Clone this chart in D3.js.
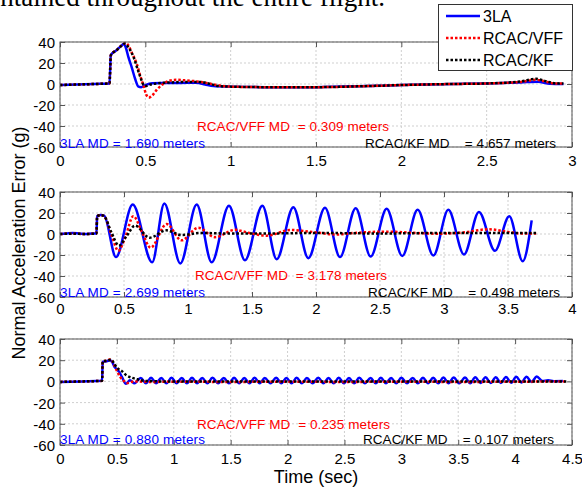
<!DOCTYPE html>
<html><head><meta charset="utf-8">
<script src="https://cdn.jsdelivr.net/npm/d3@7"></script>
<style>
body{margin:0;background:#fff}
svg{display:block}
text{font-family:"Liberation Sans",Arial,Helvetica,sans-serif}
</style>
</head><body>
<svg id="chart" width="582" height="491"></svg>
<script>
// ---------- DATA ----------
const seriesNames = ["3LA", "RCAC/VFF", "RCAC/KF"];
const seriesColors = ["#0000ff", "#ff0000", "#000000"];
const yTicks = [40, 20, 0, -20, -40, -60];
const xTicks1 = [0, 0.5, 1, 1.5, 2, 2.5, 3];
const xTicks2 = [0, 0.5, 1, 1.5, 2, 2.5, 3, 3.5, 4];
const xTicks3 = [0, 0.5, 1, 1.5, 2, 2.5, 3, 3.5, 4, 4.5];

// Panel 1
const p1_blue_t = [0,0.1,0.2,0.29,0.298,0.33,0.36,0.372,0.385,0.4,0.42,0.44,0.46,0.475,0.5,0.54,0.6,0.7,0.8,0.85,0.9,1.0,1.2,1.5,1.8,2.0,2.3,2.5,2.7,2.8,2.87,2.95];
const p1_blue_v = [-1,-0.5,0,0.5,27.5,32,36.5,38,35,26,16,5,-2.5,-3,-1,0.8,1,1,1.2,-0.5,-2,-2.5,-3,-3,-2,-1,0,0.5,1.5,2.2,0.3,0];
const p1_red_t = [0,0.1,0.2,0.29,0.298,0.33,0.36,0.385,0.4,0.42,0.45,0.47,0.49,0.505,0.52,0.54,0.57,0.6,0.64,0.68,0.73,0.8,0.86,0.92,1.0,1.2,1.5,1.8,2.0,2.3,2.5,2.7,2.79,2.84,2.9,2.95];
const p1_red_v = [-1,-0.5,0,0.5,27.5,32,36.5,39,37,30,19,8,-2,-10,-13,-11,-5,-0.5,3,4,3.5,2.5,1,-1,-2.5,-3,-3,-2,-1,0,0.5,2,4,2.5,0.5,0.5];
const p1_black_t = [0,0.1,0.2,0.29,0.298,0.33,0.36,0.38,0.4,0.43,0.455,0.47,0.49,0.5,0.53,0.57,0.65,0.75,0.82,0.87,0.93,1.0,1.2,1.5,1.8,2.0,2.3,2.5,2.7,2.79,2.84,2.9,2.95];
const p1_black_v = [-1,-0.5,0,0.5,27.5,32,36.5,38.5,35,26,14,7,-1,-2,-0.5,0.6,1.5,2,2,0.5,-2,-2.5,-3,-3,-2,-1,0,0.5,2.5,5,3,0.8,0.5];

// Panel 2
const p2_blue_t = [0,0.05,0.1,0.15,0.2,0.25,0.285,0.29,0.32,0.345,0.4375,0.568,0.72,0.815,0.94,1.068,1.185,1.32,1.445,1.581,1.693,1.823,1.94,2.07,2.1875,2.31,2.427,2.552,2.674,2.794,2.917,3.034,3.156,3.273,3.398,3.51,3.615,3.685];
const p2_blue_v = [0,0.5,1,0.5,0,0.5,0.5,17,18,17.5,-22,28,-27,29,-28,28,-27,27,-25,27,-24,25.5,-23,25,-22,24.5,-21.5,24,-21,23,-20.5,23,-19.5,21,-16,17,-26,13];
const p2_red_t = [0,0.1,0.2,0.285,0.29,0.32,0.345,0.4,0.456,0.51,0.573,0.64,0.708,0.833,0.95,1.08,1.21,1.37,1.41,1.615,1.8,2.0,2.16,2.3,2.55,2.95,3.15,3.35,3.5,3.6,3.72];
const p2_red_v = [0,0.3,0,0.5,17,18,17,0,-16,-3,17,2,-13,9.5,-6,6,-3,4,3,-1.6,3.8,1.5,-0.5,1,2.2,0.3,1.5,4.5,2,0.5,0.5];
const p2_black_t = [0,0.1,0.2,0.285,0.29,0.32,0.345,0.4,0.46,0.52,0.586,0.7,0.83,0.95,1.1,1.3,1.6,2.0,2.5,3.0,3.5,3.72];
const p2_black_v = [0,0.3,0,0.5,17,18,17,2,-11,-2,8,-3.5,3.5,-1,1,0.5,0.5,1,0.5,1,1,1];

// Panel 3
const p3_blue_t = [0,0.2,0.37,0.375,0.41,0.44,0.46,0.48,0.5,0.52,0.545,0.58,0.615,0.655,
  0.71,0.755,0.80,0.845,0.89,0.935,0.98,1.025,1.07,1.115,1.16,1.205,1.25,1.295,1.34,1.39,1.44,1.485,1.53,1.575,
  1.62,1.665,1.71,1.755,1.80,1.85,1.90,1.945,1.99,2.035,2.08,2.125,2.17,2.22,2.27,2.315,2.36,2.405,2.45,2.495,
  2.54,2.585,2.63,2.68,2.73,2.775,2.82,2.865,2.91,2.955,3.00,3.05,3.10,3.145,3.19,3.235,3.28,3.325,3.37,3.415,
  3.46,3.51,3.56,3.605,3.65,3.695,3.74,3.785,3.83,3.875,3.92,3.965,4.01,4.055,4.10,4.145,4.19,4.24,4.29,4.34,4.42];
const p3_blue_v = [-0.5,0,0.5,18.5,19,20,18,13.5,11.5,9,4,-2.3,1,-1.8,
  3.3,-1.8,3.4,-1.7,3.3,-1.8,3.4,-1.7,3.3,-1.8,3.4,-1.7,3.3,-1.8,3.4,-1.7,3.3,-1.8,3.4,-1.7,
  3.3,-1.8,3.4,-1.7,3.3,-1.8,3.4,-1.7,3.3,-1.8,3.4,-1.7,3.3,-1.8,3.4,-1.7,3.3,-1.8,3.4,-1.7,
  3.3,-1.8,3.4,-1.7,3.3,-1.8,3.4,-1.7,3.3,-1.8,3.4,-1.7,3.3,-1.8,3.5,-1.7,3.5,-1.8,3.6,-1.7,
  3.6,-1.8,3.7,-1.7,3.8,-1.6,3.9,-1.5,4.0,-1.4,4.1,-1.3,4.3,-1.0,4.5,-0.6,4.6,0.3,1.0,0.2,0.3];
const p3_red_t = [0,0.2,0.37,0.375,0.41,0.445,0.47,0.5,0.53,0.56,0.59,0.65,0.8,1.0,1.5,2.0,2.5,3.0,3.5,4.0,4.45];
const p3_red_v = [-0.5,0,0.5,19,19.5,21,17,10,4,0.5,-1.5,0,-0.5,-0.3,-0.5,-0.3,-0.5,-0.3,-0.5,-0.3,0];
const p3_black_t = [0,0.2,0.37,0.375,0.41,0.45,0.48,0.51,0.54,0.58,0.63,0.68,0.75,0.9,1.5,2.0,2.5,3.0,3.5,4.0,4.45];
const p3_black_v = [-0.5,0,0.5,19,19.5,20.5,16,12,10,6,3.5,2,0.5,0,0,0,0,0,0,0,0];

const annot1 = ["3LA MD = 1.690 meters", "RCAC/VFF MD  = 0.309 meters", "RCAC/KF MD    = 4.657 meters"];
const annot2 = ["3LA MD = 2.699 meters", "RCAC/VFF MD  = 3.178 meters", "RCAC/KF MD    = 0.498 meters"];
const annot3 = ["3LA MD = 0.880 meters", "RCAC/VFF MD  = 0.235 meters", "RCAC/KF MD    = 0.107 meters"];

// ---------- BUILD ----------
const zip = (t, v) => t.map((d, i) => ({t: d, v: v[i]}));
const panels = [
  {top: 42, bottom: 147, xmax: 3, xticks: xTicks1, annot: annot1,
   series: [zip(p1_blue_t, p1_blue_v), zip(p1_red_t, p1_red_v), zip(p1_black_t, p1_black_v)],
   apos: [[60,147.5,145],[197,131,192],[365,148,191]], labY: 165.5},
  {top: 192, bottom: 297, xmax: 4, xticks: xTicks2, annot: annot2,
   series: [zip(p2_blue_t, p2_blue_v), zip(p2_red_t, p2_red_v), zip(p2_black_t, p2_black_v)],
   apos: [[60,296.5,145],[195,280,192],[368,296.5,192]], labY: 314},
  {top: 339, bottom: 445, xmax: 4.5, xticks: xTicks3, annot: annot3,
   series: [zip(p3_blue_t, p3_blue_v), zip(p3_red_t, p3_red_v), zip(p3_black_t, p3_black_v)],
   apos: [[60,444,145],[197,428.5,193],[363,444,191]], labY: 463.5}
];

const L = 60, R = 572;
const svg = d3.select("#chart");
const axisColor = "#555";
const dashes = [null, "2.5,2", "2.5,2"];

// header text from the source document, cropped at the top edge as in the original
svg.append("text").attr("x", 385).attr("y", 6).attr("text-anchor", "end")
  .style("font-family", "'Liberation Serif','Times New Roman',serif").style("font-size", "27px")
  .attr("fill", "#000").text("maintained throughout the entire flight.");

panels.forEach((p, pi) => {
  const x = d3.scaleLinear().domain([0, p.xmax]).range([L, R]);
  const y = d3.scaleLinear().domain([-60, 40]).range([p.bottom, p.top]);
  const g = svg.append("g");
  g.append("rect").attr("x", L).attr("y", p.top).attr("width", R - L).attr("height", p.bottom - p.top).attr("fill", "#fff");
  // grid
  g.selectAll(".gx").data(p.xticks).join("line")
    .attr("x1", d => x(d)).attr("x2", d => x(d)).attr("y1", p.top).attr("y2", p.bottom)
    .attr("stroke", "#cfcfcf").attr("stroke-dasharray", "2,2").attr("stroke-width", 1);
  g.selectAll(".gy").data(yTicks).join("line")
    .attr("x1", L).attr("x2", R).attr("y1", d => y(d)).attr("y2", d => y(d))
    .attr("stroke", "#cfcfcf").attr("stroke-dasharray", "2,2").attr("stroke-width", 1);
  // axes
  const fmt = d => String(d);
  const ax = g.append("g").attr("transform", `translate(0,${p.bottom})`)
    .call(d3.axisBottom(x).tickValues(p.xticks).tickFormat(fmt).tickSizeInner(-5).tickSizeOuter(0).tickPadding(7));
  ax.selectAll("text").attr("y", null).attr("dy", null).attr("y", p.labY - p.bottom);
  const ay = g.append("g").attr("transform", `translate(${L},0)`)
    .call(d3.axisLeft(y).tickValues(yTicks).tickFormat(fmt).tickSizeInner(-5).tickSizeOuter(0).tickPadding(5));
  ay.selectAll("text").attr("dy", "0.36em");
  g.append("g").attr("transform", `translate(0,${p.top})`)
    .call(d3.axisTop(x).tickValues(p.xticks).tickFormat("").tickSizeInner(-5).tickSizeOuter(0));
  g.append("g").attr("transform", `translate(${R},0)`)
    .call(d3.axisRight(y).tickValues(yTicks).tickFormat("").tickSizeInner(-5).tickSizeOuter(0));
  g.selectAll(".domain").remove();
  g.selectAll(".tick line").attr("stroke", axisColor);
  g.selectAll(".tick text").attr("fill", "#000").style("font-size", "15px")
    .style("font-family", "'Liberation Sans',Arial,sans-serif");
  // lines
  const line = d3.line().x(d => x(d.t)).y(d => y(d.v)).curve(d3.curveMonotoneX);
  p.series.forEach((s, si) => {
    g.append("path").datum(s).attr("d", line).attr("fill", "none")
      .attr("stroke", seriesColors[si]).attr("stroke-width", 2.5)
      .attr("stroke-dasharray", dashes[si]);
  });
  // box
  g.append("rect").attr("x", L).attr("y", p.top).attr("width", R - L).attr("height", p.bottom - p.top)
    .attr("fill", "none").attr("stroke", axisColor).attr("stroke-width", 1);
  // annotations
  p.annot.forEach((a, ai) => {
    const [ax0, ay0, w] = p.apos[ai];
    g.append("text").attr("x", ax0).attr("y", ay0).attr("fill", seriesColors[ai])
      .style("font-size", "13.5px").style("white-space", "pre").attr("xml:space", "preserve")
      .attr("textLength", w).attr("lengthAdjust", "spacing").text(a);
  });
});

// legend
const lg = svg.append("g");
lg.append("rect").attr("x", 438.5).attr("y", 4.5).attr("width", 134).attr("height", 66)
  .attr("fill", "#fff").attr("stroke", "#333").attr("stroke-width", 1);
seriesNames.forEach((n, i) => {
  const yy = 16 + i * 22;
  lg.append("line").attr("x1", 446).attr("x2", 480).attr("y1", yy).attr("y2", yy)
    .attr("stroke", seriesColors[i]).attr("stroke-width", 2.5).attr("stroke-dasharray", dashes[i]);
  lg.append("text").attr("x", 483).attr("y", yy).attr("dy", "0.36em").attr("fill", "#000")
    .style("font-size", "16px").text(n);
});

// axis titles
svg.append("text").attr("x", (L + R) / 2).attr("y", 483).attr("text-anchor", "middle")
  .style("font-size", "18px").attr("fill", "#000").text("Time (sec)");
svg.append("text").attr("transform", "translate(25,243) rotate(-90)").attr("text-anchor", "middle")
  .style("font-size", "18px").attr("fill", "#000").text("Normal Acceleration Error (g)");
</script>
</body></html>
